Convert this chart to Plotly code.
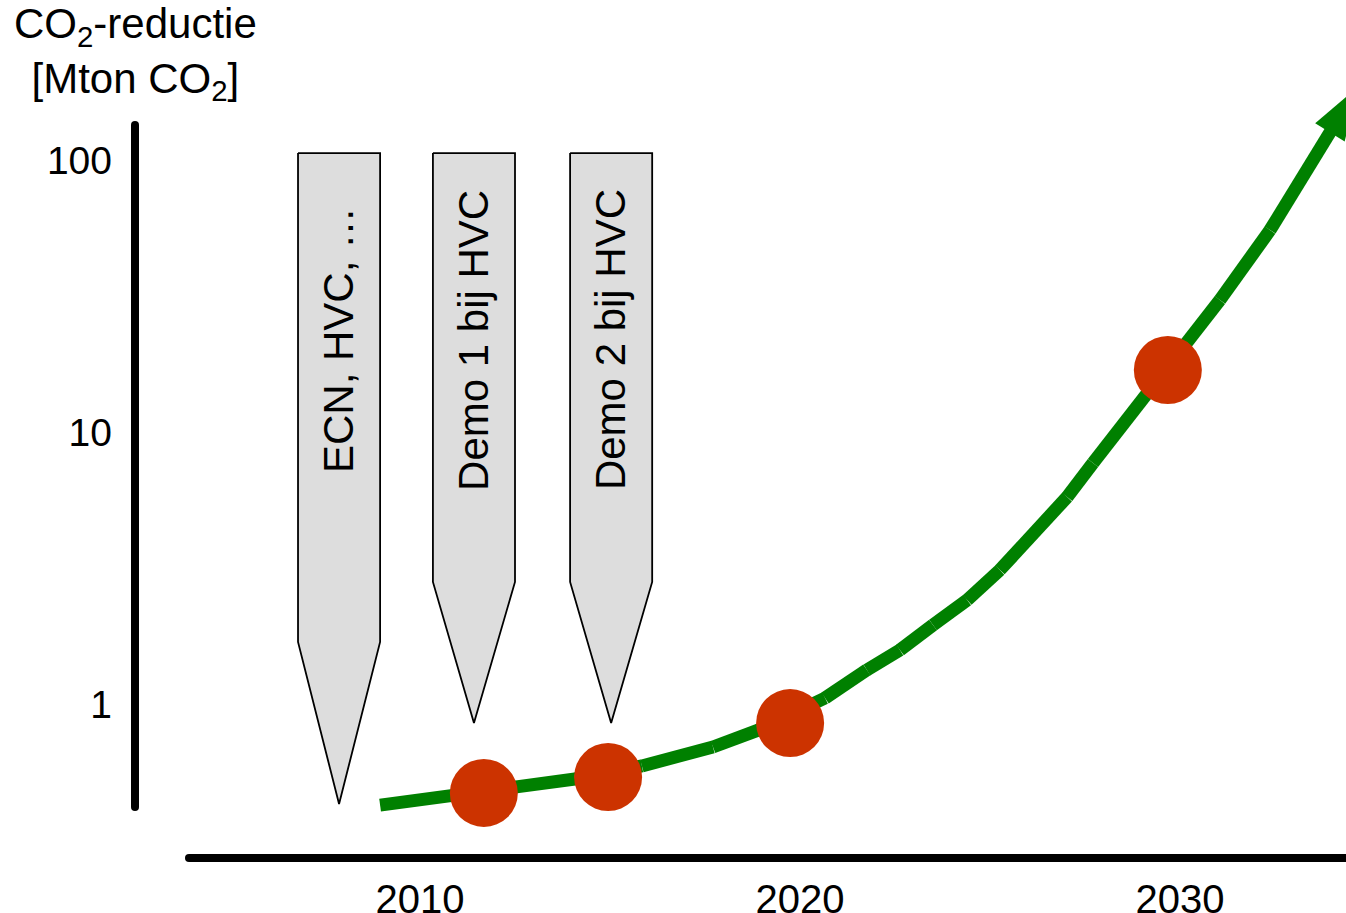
import numpy as np
import plotly.graph_objects as go

# ---------------- data ----------------
curve_years = [2008.95, 2012.58, 2014.08, 2015.84, 2017.71, 2018.90, 2020.66, 2021.76,
               2022.63, 2023.50, 2024.40, 2025.26, 2026.13, 2027.03, 2027.71, 2028.34,
               2029.08, 2030.26, 2031.05, 2032.37, 2033.16, 2033.87, 2034.68]
curve_values = [0.425, 0.491, 0.530, 0.592, 0.695, 0.802, 1.052, 1.334,
                1.579, 1.951, 2.412, 3.110, 4.182, 5.768, 7.691, 9.915,
                13.45, 21.79, 30.57, 55.28, 84.45, 121.5, 185.5]

milestone_years = [2011.68, 2014.95, 2019.74, 2029.68]
milestone_values = [0.471, 0.539, 0.851, 16.9]

pennant_labels = ["ECN, HVC, \u2026", "Demo 1 bij HVC", "Demo 2 bij HVC"]
pennant_years = [2007.87, 2011.42, 2015.03]
pennant_top = [106.0, 106.0, 106.0]
pennant_shoulder = [1.69, 2.81, 2.81]
pennant_tip = [0.429, 0.851, 0.851]
pennant_label_value = 21.8

x_tickvals = [2010, 2020, 2030]
x_ticktext = ["2010", "2020", "2030"]
y_tickvals = [1, 10, 100]
y_ticktext = ["1", "10", "100"]

y_title = "CO<sub>2</sub>-reductie<br>[Mton CO<sub>2</sub>]"

# ---------------- styles ----------------
FONT = "Arial, Liberation Sans, sans-serif"
GREEN = "#008000"
RED = "#CC3300"
GREY = "#DDDDDD"
PENNANT_HALF = 1.08

fig = go.Figure()

# pennants
for yr, top, sh, tip in zip(pennant_years, pennant_top, pennant_shoulder, pennant_tip):
    xs = [yr - PENNANT_HALF, yr + PENNANT_HALF, yr + PENNANT_HALF, yr, yr - PENNANT_HALF, yr - PENNANT_HALF]
    ys = [top, top, sh, tip, sh, top]
    fig.add_trace(go.Scatter(x=xs, y=ys, mode="lines", fill="toself",
                             fillcolor=GREY, line=dict(color="black", width=1.8),
                             hoverinfo="skip", showlegend=False))

# green growth curve with arrow head
sizes = [0] * (len(curve_years) - 1) + [56]
fig.add_trace(go.Scatter(x=curve_years, y=curve_values, mode="lines+markers",
                         line=dict(color=GREEN, width=13),
                         marker=dict(symbol="arrow", size=sizes, color=GREEN, opacity=1,
                                     angleref="previous", line=dict(width=0)),
                         cliponaxis=False, hoverinfo="skip", showlegend=False))

# milestones
fig.add_trace(go.Scatter(x=milestone_years, y=milestone_values, mode="markers",
                         marker=dict(size=68, color=RED, opacity=1, line=dict(width=0)),
                         cliponaxis=False, hoverinfo="skip", showlegend=False))

# pennant labels
for yr, lab in zip(pennant_years, pennant_labels):
    fig.add_annotation(x=yr, y=np.log10(pennant_label_value), xref="x", yref="y",
                       text=lab, textangle=-90, showarrow=False,
                       xanchor="center", yanchor="middle",
                       font=dict(family=FONT, size=42, color="black"))

# y title
fig.add_annotation(x=0, y=1.0081, xref="paper", yref="paper", text=y_title,
                   showarrow=False, xanchor="center", yanchor="middle",
                   font=dict(family=FONT, size=42, color="black"))

# axis lines (drawn as shapes, with rounded ends)
PLOT_W = 1380 - 135
x_axis_start = (189 - 135) / PLOT_W
y_axis_bottom = 0.0639
y_axis_top = 0.9185
shapes = [
    dict(type="line", xref="paper", yref="paper", x0=0, x1=0, y0=y_axis_bottom, y1=y_axis_top,
         line=dict(color="black", width=8)),
    dict(type="line", xref="paper", yref="paper", x0=x_axis_start, x1=1, y0=0, y1=0,
         line=dict(color="black", width=8)),
]
for (ax_, ay_) in [(0, y_axis_bottom), (0, y_axis_top), (x_axis_start, 0)]:
    shapes.append(dict(type="circle", xref="paper", yref="paper",
                       xsizemode="pixel", ysizemode="pixel", xanchor=ax_, yanchor=ay_,
                       x0=-4, x1=4, y0=-4, y1=4, fillcolor="black",
                       line=dict(width=0)))

fig.update_layout(
    width=1380, height=913,
    template="none",
    margin=dict(l=135, r=0, t=60, b=55, pad=0),
    paper_bgcolor="white", plot_bgcolor="white",
    font=dict(family=FONT, color="black"),
    showlegend=False,
    shapes=shapes,
    xaxis=dict(range=[2002.5, 2035.263], tickvals=x_tickvals, ticktext=x_ticktext,
               showgrid=False, zeroline=False, showline=False, ticks="",
               tickfont=dict(family=FONT, size=40, color="black"),
               ticklabelstandoff=14, automargin=False, fixedrange=True),
    yaxis=dict(type="log", range=[-0.5662, 2.3676], tickvals=y_tickvals, ticktext=y_ticktext,
               showgrid=False, zeroline=False, showline=False, ticks="",
               tickfont=dict(family=FONT, size=39, color="black"),
               ticklabelstandoff=22, automargin=False, fixedrange=True),
)

fig.write_html("out.html", config={"displayModeBar": False},
               post_script="document.body.style.margin='0px';"
                           "document.body.style.overflow='hidden';"
                           "document.documentElement.style.overflow='hidden';")
